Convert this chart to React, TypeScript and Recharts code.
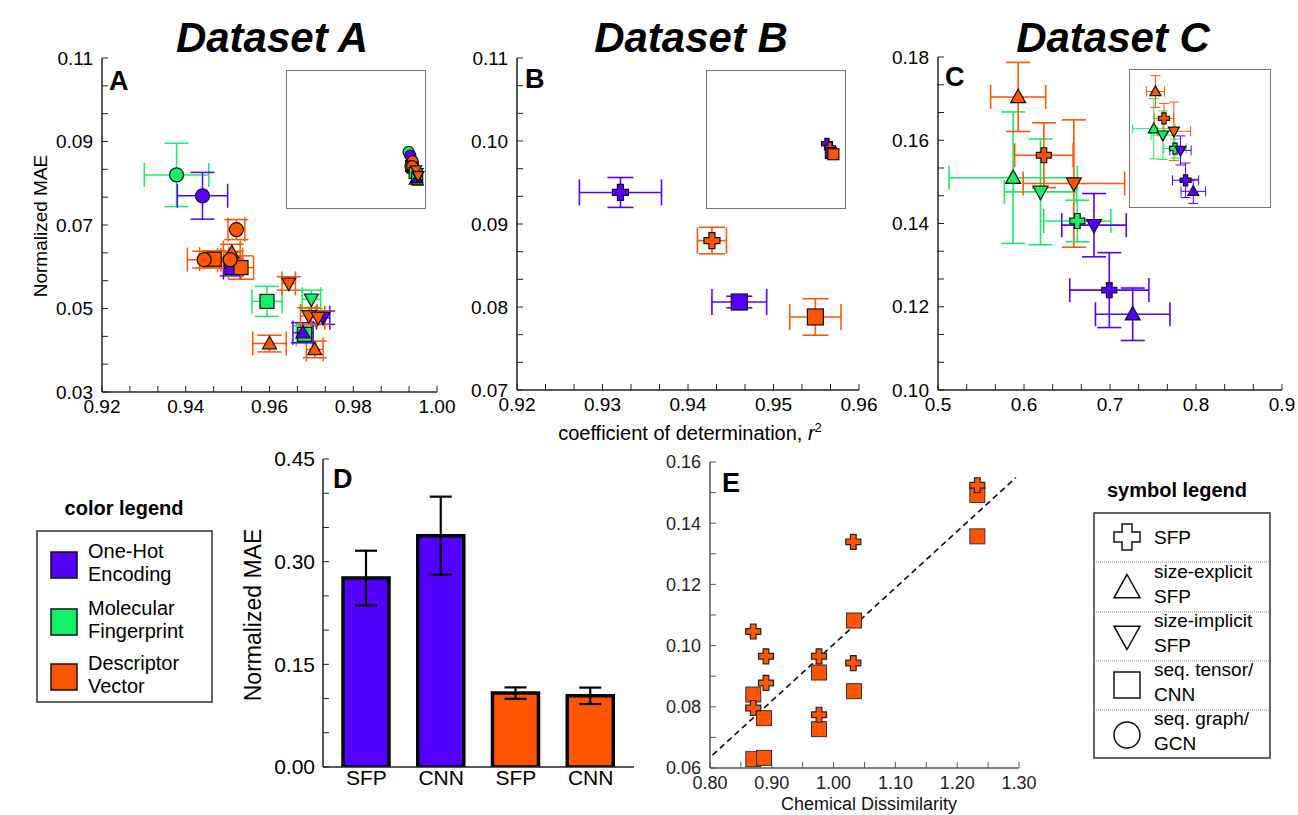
import React from 'react';
import { ScatterChart, Scatter, XAxis, YAxis, ErrorBar, BarChart, Bar, Cell, ReferenceLine } from 'recharts';

const PURPLE = '#5500ff';
const GREEN = '#14f066';
const ORANGE = '#ff5500';
const FONT = "'Liberation Sans', Arial, Helvetica, sans-serif";

type Pt = { x: number; y: number; ex: number; ey: number };
type Kind = 'circle' | 'square' | 'up' | 'down' | 'cross';

// ---------- Panel A (Dataset A) ----------
const aGreenCircle: Pt[] = [{ x: 0.9378, y: 0.082, ex: 0.0077, ey: 0.0076 }];
const aPurpleCircle: Pt[] = [{ x: 0.944, y: 0.077, ex: 0.006, ey: 0.0056 }];
const aPurpleSquare: Pt[] = [{ x: 0.951, y: 0.0598, ex: 0.002, ey: 0.002 }];
const aOrangeUp: Pt[] = [
  { x: 0.951, y: 0.0634, ex: 0.002, ey: 0.002 },
  { x: 0.96, y: 0.0416, ex: 0.004, ey: 0.002 },
  { x: 0.9708, y: 0.0402, ex: 0.002, ey: 0.002 },
];
const aOrangeSquare: Pt[] = [
  { x: 0.9468, y: 0.0618, ex: 0.0035, ey: 0.002 },
  { x: 0.9532, y: 0.0598, ex: 0.003, ey: 0.0028 },
];
const aOrangeCircle: Pt[] = [
  { x: 0.9521, y: 0.0689, ex: 0.002, ey: 0.0024 },
  { x: 0.9444, y: 0.0617, ex: 0.004, ey: 0.002 },
  { x: 0.9506, y: 0.0617, ex: 0.003, ey: 0.002 },
];
const aGreenSquare: Pt[] = [
  { x: 0.9594, y: 0.0517, ex: 0.0036, ey: 0.0036 },
  { x: 0.9684, y: 0.0438, ex: 0.002, ey: 0.002 },
];
const aPurpleUp: Pt[] = [{ x: 0.968, y: 0.0442, ex: 0.0024, ey: 0.0024 }];
const aPurpleDown: Pt[] = [{ x: 0.9728, y: 0.0478, ex: 0.0016, ey: 0.0016 }];
const aGreenDown: Pt[] = [{ x: 0.97, y: 0.0522, ex: 0.0022, ey: 0.0022 }];
const aOrangeDown: Pt[] = [
  { x: 0.9646, y: 0.056, ex: 0.0016, ey: 0.0016 },
  { x: 0.9694, y: 0.0482, ex: 0.002, ey: 0.002 },
  { x: 0.9716, y: 0.0478, ex: 0.0016, ey: 0.0016 },
];

// ---------- Panel B (Dataset B) ----------
const bPurpleCross: Pt[] = [{ x: 0.9321, y: 0.0938, ex: 0.0048, ey: 0.0018 }];
const bOrangeCross: Pt[] = [{ x: 0.9428, y: 0.088, ex: 0.0017, ey: 0.0016 }];
const bPurpleSquare: Pt[] = [{ x: 0.946, y: 0.0806, ex: 0.0032, ey: 0.0007 }];
const bOrangeSquare: Pt[] = [{ x: 0.9549, y: 0.0788, ex: 0.003, ey: 0.0022 }];

// ---------- Panel C (Dataset C) ----------
const cGreenUp: Pt[] = [{ x: 0.5874, y: 0.151, ex: 0.0746, ey: 0.0158 }];
const cGreenDown: Pt[] = [{ x: 0.6192, y: 0.1476, ex: 0.042, ey: 0.0127 }];
const cOrangeUp: Pt[] = [{ x: 0.5932, y: 0.1704, ex: 0.032, ey: 0.0083 }];
const cOrangeCross: Pt[] = [{ x: 0.6231, y: 0.1564, ex: 0.034, ey: 0.0078 }];
const cOrangeDown: Pt[] = [{ x: 0.658, y: 0.1496, ex: 0.059, ey: 0.0153 }];
const cGreenCross: Pt[] = [{ x: 0.662, y: 0.1406, ex: 0.039, ey: 0.005 }];
const cPurpleDown: Pt[] = [{ x: 0.6814, y: 0.1396, ex: 0.0375, ey: 0.0076 }];
const cPurpleCross: Pt[] = [{ x: 0.6992, y: 0.124, ex: 0.046, ey: 0.009 }];
const cPurpleUp: Pt[] = [{ x: 0.7264, y: 0.1182, ex: 0.0433, ey: 0.0063 }];

// ---------- Panel D ----------
const dCategories = ['SFP', 'CNN', 'SFP', 'CNN'];
const dEncodings = ['One-Hot Encoding', 'One-Hot Encoding', 'Descriptor Vector', 'Descriptor Vector'];
const dValues = [0.276, 0.338, 0.108, 0.104];
const dErrors = [0.04, 0.057, 0.0083, 0.012];

// ---------- Panel E ----------
const eCrossX = [0.87, 0.8906, 0.8906, 0.87, 0.9764, 0.9764, 1.0319, 1.0319, 1.2326];
const eCrossY = [0.1046, 0.0965, 0.0878, 0.0796, 0.0965, 0.0774, 0.1339, 0.0943, 0.1524];
const eSquareX = [0.87, 0.8874, 0.87, 0.8874, 0.9764, 0.9764, 1.033, 1.033, 1.2326, 1.2326];
const eSquareY = [0.084, 0.0763, 0.0629, 0.0633, 0.0912, 0.0727, 0.1082, 0.0851, 0.1492, 0.1357];
const eFitX = [0.804, 1.295];
const eFitY = [0.0642, 0.1549];

// ---------- Tick labels ----------
const aXTicks = [0.92, 0.926667, 0.933333, 0.94, 0.946667, 0.953333, 0.96, 0.966667, 0.973333, 0.98, 0.986667, 0.993333, 1.0];
const aXMajor = [0.92, 0.94, 0.96, 0.98, 1.0];
const aYTicks = [0.03, 0.036667, 0.043333, 0.05, 0.056667, 0.063333, 0.07, 0.076667, 0.083333, 0.09, 0.096667, 0.103333, 0.11];
const aYMajor = [0.03, 0.05, 0.07, 0.09, 0.11];
const bXTicks = [0.92, 0.923333, 0.926667, 0.93, 0.933333, 0.936667, 0.94, 0.943333, 0.946667, 0.95, 0.953333, 0.956667, 0.96];
const bXMajor = [0.92, 0.93, 0.94, 0.95, 0.96];
const bYTicks = [0.07, 0.073333, 0.076667, 0.08, 0.083333, 0.086667, 0.09, 0.093333, 0.096667, 0.1, 0.103333, 0.106667, 0.11];
const bYMajor = [0.07, 0.08, 0.09, 0.1, 0.11];
const cXTicks = [0.5, 0.533333, 0.566667, 0.6, 0.633333, 0.666667, 0.7, 0.733333, 0.766667, 0.8, 0.833333, 0.866667, 0.9];
const cXMajor = [0.5, 0.6, 0.7, 0.8, 0.9];
const cYTicks = [0.1, 0.106667, 0.113333, 0.12, 0.126667, 0.133333, 0.14, 0.146667, 0.153333, 0.16, 0.166667, 0.173333, 0.18];
const cYMajor = [0.1, 0.12, 0.14, 0.16, 0.18];
const dYTicks = [0, 0.05, 0.1, 0.15, 0.2, 0.25, 0.3, 0.35, 0.4, 0.45];
const dYMajor = [0, 0.15, 0.3, 0.45];
const eXTicks = [0.8, 0.85, 0.9, 0.95, 1.0, 1.05, 1.1, 1.15, 1.2, 1.25, 1.3];
const eXMajor = [0.8, 0.9, 1.0, 1.1, 1.2, 1.3];
const eYTicks = [0.06, 0.07, 0.08, 0.09, 0.1, 0.11, 0.12, 0.13, 0.14, 0.15, 0.16];
const eYMajor = [0.06, 0.08, 0.1, 0.12, 0.14, 0.16];

const fmt = (majors: number[], dec: number) => (v: number) =>
  majors.some((m) => Math.abs(m - v) < 1e-6) ? v.toFixed(dec) : '';

function marker(kind: Kind, cx: number, cy: number, s: number, fill: string, stroke = '#111', sw = 1.2) {
  const h = s / 2;
  if (kind === 'circle') return <circle cx={cx} cy={cy} r={h} fill={fill} stroke={stroke} strokeWidth={sw} />;
  if (kind === 'square')
    return <rect x={cx - h} y={cy - h} width={s} height={s} fill={fill} stroke={stroke} strokeWidth={sw} />;
  if (kind === 'up' || kind === 'down') {
    const th = s * 0.9;
    const d = kind === 'up' ? 1 : -1;
    const pts = `${cx},${cy - d * th * 0.58} ${cx - h},${cy + d * th * 0.42} ${cx + h},${cy + d * th * 0.42}`;
    return <polygon points={pts} fill={fill} stroke={stroke} strokeWidth={sw} strokeLinejoin="miter" />;
  }
  const a = s * 0.19;
  const p = `M${cx - a},${cy - h} H${cx + a} V${cy - a} H${cx + h} V${cy + a} H${cx + a} V${cy + h} H${cx - a} V${cy + a} H${cx - h} V${cy - a} H${cx - a} Z`;
  return <path d={p} fill={fill} stroke={stroke} strokeWidth={sw} />;
}

type Series = { data: Pt[]; color: string; kind: Kind };

function renderSeries(list: Series[], size: number, cap: number, ebw: number, prefix: string) {
  return list.map((s, i) => (
    <Scatter
      key={`${prefix}${i}`}
      data={s.data}
      isAnimationActive={false}
      shape={(p: any) => marker(s.kind, p.cx, p.cy, size, s.color)}
    >
      <ErrorBar dataKey="ex" direction="x" width={cap} stroke={s.color} strokeWidth={ebw} />
      <ErrorBar dataKey="ey" direction="y" width={cap} stroke={s.color} strokeWidth={ebw} />
    </Scatter>
  ));
}

type FrameCfg = {
  xDomain: [number, number];
  yDomain: [number, number];
  xTicks: number[];
  yTicks: number[];
  xFmt: (v: number) => string;
  yFmt: (v: number) => string;
  fs: number;
  color: string;
  textColor: string;
  yW: number;
  xH: number;
  xMargin: number;
};

function frame(c: FrameCfg) {
  const line = { stroke: c.color, strokeWidth: 1.5 };
  const tl = { stroke: c.color, strokeWidth: 1 };
  const tick = { fontSize: c.fs, fill: c.textColor, fontFamily: FONT };
  return [
    <XAxis key="xb" type="number" dataKey="x" domain={c.xDomain} ticks={c.xTicks} interval={0}
      tickFormatter={c.xFmt} allowDataOverflow axisLine={line} tickLine={tl} tickSize={-6} tickMargin={c.xMargin}
      height={c.xH} tick={tick} fontSize={c.fs} />,
    <XAxis key="xt" xAxisId="top" orientation="top" type="number" domain={c.xDomain} ticks={c.xTicks}
      interval={0} tickFormatter={() => ''} allowDataOverflow axisLine={line} tickLine={tl} tickSize={-6}
      height={0} />,
    <YAxis key="yl" type="number" dataKey="y" domain={c.yDomain} ticks={c.yTicks} interval={0}
      tickFormatter={c.yFmt} allowDataOverflow axisLine={line} tickLine={tl} tickSize={-6} tickMargin={15}
      width={c.yW} tick={tick} fontSize={c.fs} />,
    <YAxis key="yr" yAxisId="right" orientation="right" type="number" domain={c.yDomain} ticks={c.yTicks}
      interval={0} tickFormatter={() => ''} allowDataOverflow axisLine={line} tickLine={tl} tickSize={-6}
      width={0} />,
  ];
}

const aSeries: Series[] = [
  { data: aGreenCircle, color: GREEN, kind: 'circle' },
  { data: aPurpleCircle, color: PURPLE, kind: 'circle' },
  { data: aPurpleSquare, color: PURPLE, kind: 'square' },
  { data: aOrangeUp, color: ORANGE, kind: 'up' },
  { data: aOrangeSquare, color: ORANGE, kind: 'square' },
  { data: aOrangeCircle, color: ORANGE, kind: 'circle' },
  { data: aGreenSquare, color: GREEN, kind: 'square' },
  { data: aPurpleUp, color: PURPLE, kind: 'up' },
  { data: aPurpleDown, color: PURPLE, kind: 'down' },
  { data: aGreenDown, color: GREEN, kind: 'down' },
  { data: aOrangeDown, color: ORANGE, kind: 'down' },
];
const bSeries: Series[] = [
  { data: bPurpleCross, color: PURPLE, kind: 'cross' },
  { data: bOrangeCross, color: ORANGE, kind: 'cross' },
  { data: bPurpleSquare, color: PURPLE, kind: 'square' },
  { data: bOrangeSquare, color: ORANGE, kind: 'square' },
];
const cSeries: Series[] = [
  { data: cGreenUp, color: GREEN, kind: 'up' },
  { data: cGreenDown, color: GREEN, kind: 'down' },
  { data: cOrangeUp, color: ORANGE, kind: 'up' },
  { data: cOrangeCross, color: ORANGE, kind: 'cross' },
  { data: cOrangeDown, color: ORANGE, kind: 'down' },
  { data: cGreenCross, color: GREEN, kind: 'cross' },
  { data: cPurpleDown, color: PURPLE, kind: 'down' },
  { data: cPurpleCross, color: PURPLE, kind: 'cross' },
  { data: cPurpleUp, color: PURPLE, kind: 'up' },
];

const abs = (left: number, top: number): React.CSSProperties => ({ position: 'absolute', left, top });

function Inset(props: { left: number; top: number; w: number; h: number; series: Series[]; xd: [number, number]; yd: [number, number]; size: number; cap: number }) {
  const { left, top, w, h } = props;
  return (
    <>
      <div style={{ position: 'absolute', left, top, width: w, height: h, border: '1.5px solid #777', boxSizing: 'border-box', background: '#fff' }} />
      <div style={abs(left, top)}>
        <ScatterChart width={w} height={h} margin={{ top: 0, right: 0, bottom: 0, left: 0 }}>
          <XAxis type="number" dataKey="x" domain={props.xd} hide allowDataOverflow />
          <YAxis type="number" dataKey="y" domain={props.yd} hide allowDataOverflow />
          {renderSeries(props.series, props.size, props.cap, 1, 'i')}
        </ScatterChart>
      </div>
    </>
  );
}

function LegendSymbol(props: { kind: Kind; cx: number; cy: number }) {
  return marker(props.kind, props.cx, props.cy, 26, '#fff', '#111', 1.5);
}

export default function App() {
  const dData = dValues.map((v, i) => ({ id: `${dCategories[i]} ${dEncodings[i]}`, v, e: dErrors[i] }));
  const dColors = dEncodings.map((e) => (e === 'One-Hot Encoding' ? PURPLE : ORANGE));
  const eCross = eCrossX.map((x, i) => ({ x, y: eCrossY[i] }));
  const eSquare = eSquareX.map((x, i) => ({ x, y: eSquareY[i] }));

  return (
    <div style={{ position: 'absolute', left: 0, top: 0, width: 1298, height: 815, background: '#fff', fontFamily: FONT, overflow: 'hidden' }}>
      {/* Panel A */}
      <div style={abs(42, 43)}>
        <ScatterChart width={420} height={379} margin={{ top: 15, right: 25, bottom: 0, left: 0 }}>
          {frame({ xDomain: [0.92, 1.0], yDomain: [0.03, 0.11], xTicks: aXTicks, yTicks: aYTicks, xFmt: fmt(aXMajor, 2), yFmt: fmt(aYMajor, 2), fs: 19, color: '#222', textColor: '#000', yW: 60, xH: 30, xMargin: 14 })}
          {renderSeries(aSeries, 14, 12, 1.5, 'a')}
        </ScatterChart>
      </div>
      <Inset left={286} top={70} w={140} h={139} series={aSeries} xd={[0.5, 1.0]} yd={[0, 0.2]} size={11} cap={4} />

      {/* Panel B */}
      <div style={abs(457, 43)}>
        <ScatterChart width={427} height={377} margin={{ top: 15, right: 25, bottom: 0, left: 0 }}>
          {frame({ xDomain: [0.92, 0.96], yDomain: [0.07, 0.11], xTicks: bXTicks, yTicks: bYTicks, xFmt: fmt(bXMajor, 2), yFmt: fmt(bYMajor, 2), fs: 19, color: '#222', textColor: '#000', yW: 60, xH: 30, xMargin: 14 })}
          {renderSeries(bSeries, 16, 13, 1.6, 'b')}
        </ScatterChart>
      </div>
      <Inset left={706} top={70} w={140} h={139} series={bSeries} xd={[0.5, 1.0]} yd={[0, 0.2]} size={11} cap={4} />

      {/* Panel C */}
      <div style={abs(878, 42)}>
        <ScatterChart width={418} height={378} margin={{ top: 15, right: 14, bottom: 0, left: 0 }}>
          {frame({ xDomain: [0.5, 0.9], yDomain: [0.1, 0.18], xTicks: cXTicks, yTicks: cYTicks, xFmt: fmt(cXMajor, 1), yFmt: fmt(cYMajor, 2), fs: 19, color: '#222', textColor: '#000', yW: 60, xH: 30, xMargin: 14 })}
          {renderSeries(cSeries, 15, 12, 1.6, 'c')}
        </ScatterChart>
      </div>
      <Inset left={1129} top={69} w={142} h={139} series={cSeries} xd={[0.5, 1.0]} yd={[0.1095, 0.1822]} size={11} cap={5} />

      {/* Panel D */}
      <div style={abs(263, 444)}>
        <BarChart width={386} height={358} data={dData} margin={{ top: 15, right: 15, bottom: 0, left: 0 }}>
          <XAxis dataKey="id" tickFormatter={(_v: any, i: number) => dCategories[i]} tickLine={false} interval={0}
            axisLine={{ stroke: '#222', strokeWidth: 1.5 }} height={35} padding={{ left: 6, right: 6 }}
            tick={{ fontSize: 21, fill: '#000', fontFamily: FONT }} fontSize={21} tickSize={3} tickMargin={0} />
          <XAxis xAxisId="top" orientation="top" dataKey="id" height={0} tick={false} tickLine={false}
            axisLine={{ stroke: '#222', strokeWidth: 1.5 }} />
          <YAxis type="number" domain={[0, 0.45]} ticks={dYTicks} interval={0} tickFormatter={fmt(dYMajor, 2)}
            allowDataOverflow axisLine={{ stroke: '#222', strokeWidth: 1.5 }} tickLine={{ stroke: '#222' }}
            tickSize={-6} tickMargin={14} width={60} tick={{ fontSize: 21, fill: '#000', fontFamily: FONT }} fontSize={21} />
          <YAxis yAxisId="right" orientation="right" type="number" domain={[0, 0.45]} ticks={dYTicks} interval={0}
            tickFormatter={() => ''} allowDataOverflow axisLine={{ stroke: '#222', strokeWidth: 1.5 }}
            tickLine={{ stroke: '#222' }} tickSize={-6} width={0} />
          <Bar dataKey="v" barSize={46} stroke="#000" strokeWidth={3.5} isAnimationActive={false}>
            {dData.map((_d, i) => <Cell key={i} fill={dColors[i]} />)}
            <ErrorBar dataKey="e" width={11} stroke="#000" strokeWidth={2.2} />
          </Bar>
        </BarChart>
      </div>

      {/* Panel E */}
      <div style={abs(650, 447)}>
        <ScatterChart width={394} height={351} margin={{ top: 15, right: 25, bottom: 0, left: 0 }}>
          {frame({ xDomain: [0.8, 1.3], yDomain: [0.06, 0.16], xTicks: eXTicks, yTicks: eYTicks, xFmt: fmt(eXMajor, 2), yFmt: fmt(eYMajor, 2), fs: 18, color: '#555', textColor: '#222', yW: 60, xH: 30, xMargin: 14 })}
          <Scatter data={eSquare} isAnimationActive={false} shape={(p: any) => marker('square', p.cx, p.cy, 15, ORANGE, '#333', 1)} />
          <Scatter data={eCross} isAnimationActive={false} shape={(p: any) => marker('cross', p.cx, p.cy, 15, ORANGE, '#222', 1.2)} />
          <ReferenceLine segment={[{ x: eFitX[0], y: eFitY[0] }, { x: eFitX[1], y: eFitY[1] }]} stroke="#111"
            strokeDasharray="6 4" strokeWidth={1.6} ifOverflow="visible" />
        </ScatterChart>
      </div>

      {/* Text & legends overlay */}
      <svg width={1298} height={815} style={{ position: 'absolute', left: 0, top: 0, pointerEvents: 'none' }} fontFamily={FONT}>
        <text x={272} y={52} fontSize={42} fontWeight="bold" fontStyle="italic" textAnchor="middle">Dataset A</text>
        <text x={691} y={52} fontSize={42} fontWeight="bold" fontStyle="italic" textAnchor="middle">Dataset B</text>
        <text x={1113} y={52} fontSize={42} fontWeight="bold" fontStyle="italic" textAnchor="middle">Dataset C</text>

        <text x={109} y={90} fontSize={27} fontWeight="bold">A</text>
        <text x={525} y={88} fontSize={27} fontWeight="bold">B</text>
        <text x={945} y={86} fontSize={27} fontWeight="bold">C</text>
        <text x={333} y={488} fontSize={27} fontWeight="bold">D</text>
        <text x={722} y={492} fontSize={27} fontWeight="bold">E</text>

        <text transform="translate(47,226) rotate(-90)" fontSize={19} textAnchor="middle">Normalized MAE</text>
        <text x={690} y={440} fontSize={20} textAnchor="middle">
          coefficient of determination, <tspan fontStyle="italic">r</tspan>
          <tspan fontSize={13} dy={-8}>2</tspan>
        </text>
        <text transform="translate(261,615) rotate(-90)" fontSize={23} textAnchor="middle">Normalized MAE</text>
        <text x={869} y={810} fontSize={18} textAnchor="middle" fill="#111">Chemical Dissimilarity</text>

        {/* color legend */}
        <text x={124} y={515} fontSize={20} fontWeight="bold" textAnchor="middle">color legend</text>
        <rect x={37} y={531} width={175} height={171} fill="none" stroke="#333" strokeWidth={1.5} />
        <rect x={51} y={552} width={26} height={26} fill={PURPLE} stroke="#111" strokeWidth={1.5} />
        <text x={88} y={558} fontSize={20}>One-Hot</text>
        <text x={88} y={581} fontSize={20}>Encoding</text>
        <rect x={51} y={609} width={26} height={26} fill={GREEN} stroke="#111" strokeWidth={1.5} />
        <text x={88} y={615} fontSize={20}>Molecular</text>
        <text x={88} y={638} fontSize={20}>Fingerprint</text>
        <rect x={51} y={664} width={26} height={26} fill={ORANGE} stroke="#111" strokeWidth={1.5} />
        <text x={88} y={670} fontSize={20}>Descriptor</text>
        <text x={88} y={693} fontSize={20}>Vector</text>

        {/* symbol legend */}
        <text x={1177} y={497} fontSize={20} fontWeight="bold" textAnchor="middle">symbol legend</text>
        <rect x={1094} y={513} width={176} height={245} fill="none" stroke="#333" strokeWidth={1.5} />
        {[562, 612, 661, 710].map((y) => (
          <line key={y} x1={1094} x2={1270} y1={y} y2={y} stroke="#888" strokeWidth={1} strokeDasharray="1 1" />
        ))}
        <LegendSymbol kind="cross" cx={1127} cy={537} />
        <LegendSymbol kind="up" cx={1127} cy={588} />
        <LegendSymbol kind="down" cx={1127} cy={636} />
        <LegendSymbol kind="square" cx={1127} cy={685} />
        <LegendSymbol kind="circle" cx={1127} cy={735} />
        <text x={1154} y={544} fontSize={19}>SFP</text>
        <text x={1154} y={578} fontSize={19}>size-explicit</text>
        <text x={1154} y={603} fontSize={19}>SFP</text>
        <text x={1154} y={627} fontSize={19}>size-implicit</text>
        <text x={1154} y={652} fontSize={19}>SFP</text>
        <text x={1154} y={676} fontSize={19}>seq. tensor/</text>
        <text x={1154} y={701} fontSize={19}>CNN</text>
        <text x={1154} y={725} fontSize={19}>seq. graph/</text>
        <text x={1154} y={750} fontSize={19}>GCN</text>
      </svg>
    </div>
  );
}
